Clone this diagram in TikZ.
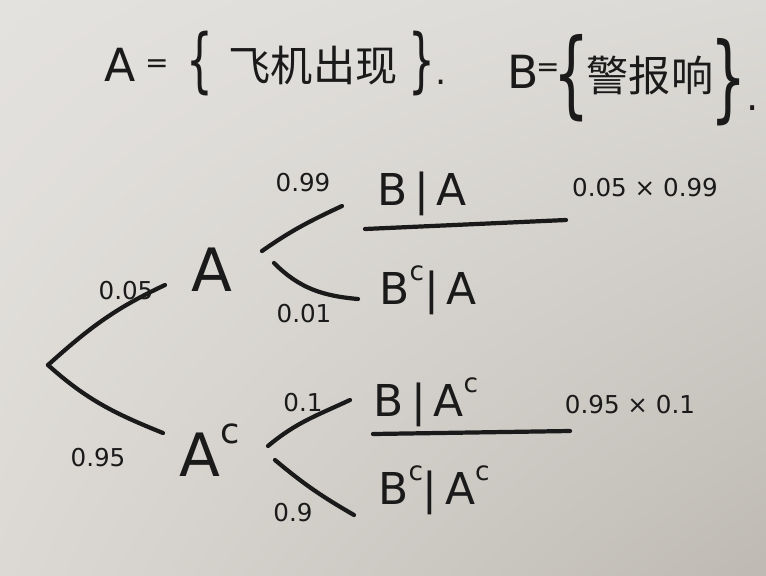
\documentclass[tikz,border=0pt]{standalone}
\usepackage{fontspec}
\usetikzlibrary{shadings}
\setmainfont{DejaVu Sans}
\newfontfamily\cjk{Noto Sans CJK SC}
\definecolor{ink}{HTML}{1A1A1A}
\definecolor{bgul}{RGB}{228,226,223}
\definecolor{bgur}{RGB}{220,218,214}
\definecolor{bgll}{RGB}{220,217,212}
\definecolor{bglr}{RGB}{190,186,179}
\tikzset{
  x=0.02cm, y=-0.02cm,
  every node/.style={text=ink, inner sep=1pt},
  big/.style={font=\fontsize{34}{36}\selectfont},
  mid/.style={font=\fontsize{25}{28}\selectfont},
  num/.style={font=\fontsize{14}{16}\selectfont},
  title/.style={font=\fontsize{26}{30}\selectfont},
  eqs/.style={font=\fontsize{16}{18}\selectfont, inner sep=0pt},
  cjkt/.style={font=\fontsize{24}{28}\selectfont\cjk, inner sep=0pt},
  braceA/.style={font=\fontsize{40}{40}\selectfont, inner sep=0pt},
  braceB/.style={font=\fontsize{54}{54}\selectfont, inner sep=0pt},
  branch/.style={draw=ink, line width=2.4pt, line cap=round},
}
\newcommand{\supc}[1]{\raisebox{0.55em}{\fontsize{#1}{#1}\selectfont c}}
\newcommand{\thinbr}[1]{\scalebox{0.6}[1]{#1}}
\begin{document}
\begin{tikzpicture}
\shade[upper left=bgul, upper right=bgur, lower left=bgll, lower right=bglr]
  (0,0) rectangle (766,575);
\useasboundingbox (0,0) rectangle (766,575);

% titles
\node[title] (defA) at (120,65) {A};
\node[eqs] (eqA) at (157,66) {=};
\node[braceA] (lbA) at (200,64) {\thinbr{\{}};
\node[cjkt] (txtA) at (313,66) {飞机出现};
\node[braceA, anchor=west] (rbA) at (408,64) {\thinbr{\}}{\fontsize{20}{20}\selectfont.}};
\node[title] (defB) at (523,72) {B};
\node[eqs] (eqB) at (548,70) {=};
\node[braceB] (lbB) at (572,78) {\thinbr{\{}};
\node[cjkt] (txtB) at (650,75) {警报响};
\node[braceB, anchor=west] (rbB) at (710,82) {\thinbr{\}}{\fontsize{22}{22}\selectfont.}};

% tree nodes
\coordinate (root) at (48,365);
\node[big] (A) at (212,270) {A};
\node[big] (Ac) at (210,450) {A\supc{20}};
\node[mid] (BA) at (422,194) {B\,|\,A};
\node[mid] (BcA) at (428,290) {B\supc{15}|\,A};
\node[mid] (BAc) at (426,402) {B\,|\,A\supc{15}};
\node[mid] (BcAc) at (434,490) {B\supc{15}|\,A\supc{15}};

% branch end points
\coordinate (rA) at (165,285);
\coordinate (rAc) at (163,433);
\coordinate (aU0) at (262,251);
\coordinate (aU1) at (342,206);
\coordinate (aL0) at (274,263);
\coordinate (aL1) at (358,299);
\coordinate (cU0) at (268,446);
\coordinate (cU1) at (350,400);
\coordinate (cL0) at (275,460);
\coordinate (cL1) at (354,515);
\coordinate (u1a) at (365,229);
\coordinate (u1b) at (566,220);
\coordinate (u2a) at (373,434);
\coordinate (u2b) at (570,431);

\draw[branch] (root) to[out=42,in=205] (rA);
\draw[branch] (root) to[out=-42,in=158] (rAc);
\draw[branch] (aU0) to[out=35,in=205] (aU1);
\draw[branch] (aL0) to[out=-45,in=175] (aL1);
\draw[branch] (cU0) to[out=40,in=205] (cU1);
\draw[branch] (cL0) to[out=-40,in=150] (cL1);
\draw[branch] (u1a) -- (u1b);
\draw[branch] (u2a) -- (u2b);

% probabilities
\node[num] (p005) at (126,291) {0.05};
\node[num] (p095) at (98,458) {0.95};
\node[num] (p099) at (303,183) {0.99};
\node[num] (p001) at (304,314) {0.01};
\node[num] (p01) at (303,403) {0.1};
\node[num] (p09) at (293,513) {0.9};
\node[num] (r1) at (645,188) {0.05 × 0.99};
\node[num] (r2) at (630,405) {0.95 × 0.1};
\end{tikzpicture}
\end{document}
